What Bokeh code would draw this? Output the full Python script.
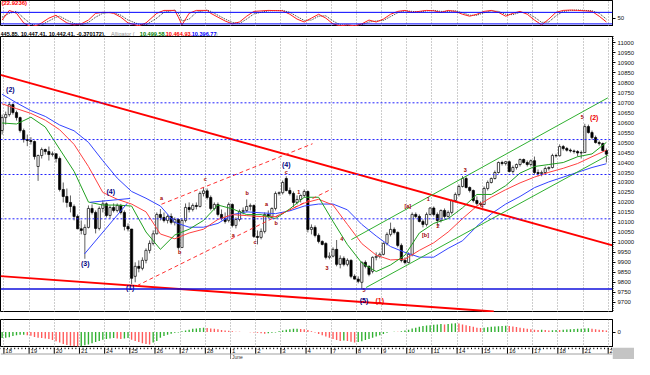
import numpy as np
from bokeh.plotting import figure
from bokeh.layouts import column
from bokeh.models import ColumnDataSource, Range1d, FixedTicker, Grid, Label, Span
from bokeh.embed import file_html
from bokeh.resources import INLINE
from bokeh.core.properties import value

# ---------------- data ----------------
day_labels = ["18", "19", "20", "21", "24", "25", "26", "27", "28", "1", "2", "3",
              "4", "7", "8", "9", "10", "11", "14", "15", "16", "17", "18", "21", "22"]
month_label = "June"
month_day = 9          # position of "1" (June) in day_labels
bars_per_day = 7
first_day_bar = 1      # bar 0 is the last hour of the previous session

opens = [10560,
 10625,10640,10690,10650,10625,10560,10515,
 10510,10505,10380,10435,10465,10455,10440,
 10444,10420,10265,10230,10200,10180,10130,
 10068,10040,10075,10170,10150,10070,10170,
 10193,10135,10175,10160,10185,10150,10080,
 10067,9830,9880,9870,9910,9960,9995,
 10043,10140,10125,10110,10130,10100,10115,
 9974,10110,10175,10165,10185,10180,10245,
 10258,10225,10170,10190,10140,10120,10110,
 10190,10085,10115,10155,10160,10180,10185,
 10030,10025,10055,10140,10130,10170,10245,
 10249,10320,10260,10245,10200,10215,10235,
 10255,10065,10075,10035,10005,9995,9925,
 9931,9965,9890,9920,9890,9910,9830,
 9816,9800,9900,9880,9855,9925,9930,
 9940,9995,10040,10065,10050,9985,9910,
 9899,9940,10140,10130,10105,10090,10140,
 10172,10140,10110,10160,10130,10150,10210,
 10240,10280,10320,10275,10260,10210,10195,
 10190,10270,10300,10320,10350,10400,10395,
 10404,10355,10375,10390,10415,10400,10390,
 10409,10350,10345,10350,10370,10375,10435,
 10434,10480,10470,10462,10458,10455,10448,
 10450,10580,10550,10525,10500,10495,10460]
highs = [10640,
 10655,10704,10695,10660,10630,10570,10540,
 10527,10510,10440,10475,10470,10480,10455,
 10444,10430,10300,10270,10235,10190,10140,
 10110,10090,10185,10190,10160,10180,10211,
 10200,10185,10195,10195,10193,10160,10095,
 10067,9900,9910,9925,9970,10010,10060,
 10150,10167,10150,10140,10145,10125,10120,
 10120,10195,10200,10195,10200,10255,10275,
 10270,10235,10200,10200,10165,10150,10200,
 10195,10125,10165,10175,10215,10195,10190,
 10060,10070,10150,10160,10175,10255,10255,
 10310,10331,10275,10255,10235,10240,10265,
 10260,10090,10085,10045,10010,10000,9950,
 9975,10012,9935,9930,9920,9915,9840,
 9830,9905,9910,9885,9930,9950,9949,
 10000,10050,10099,10075,10055,9995,9925,
 9950,10150,10150,10140,10115,10150,10176,
 10180,10150,10165,10170,10160,10215,10250,
 10290,10332,10330,10280,10265,10230,10205,
 10280,10310,10325,10360,10405,10409,10408,
 10410,10385,10395,10420,10420,10410,10415,
 10430,10365,10360,10380,10380,10444,10444,
 10491,10488,10478,10470,10465,10462,10460,
 10594,10590,10560,10535,10510,10500,10470]
lows = [10540,
 10590,10630,10640,10610,10550,10500,10482,
 10490,10415,10308,10420,10440,10410,10430,
 10400,10255,10200,10175,10150,10110,10066,
 10040,9918,10070,10140,10045,10060,10150,
 10125,10120,10150,10150,10140,10060,10055,
 9790,9800,9850,9860,9895,9945,9985,
 10040,10110,10100,10095,10090,10085,9963,
 9974,10100,10150,10155,10165,10175,10230,
 10215,10160,10160,10130,10110,10094,10100,
 10075,10070,10105,10140,10150,10160,10022,
 9990,10015,10045,10120,10120,10160,10235,
 10240,10255,10235,10177,10190,10200,10225,
 10050,10040,10025,9995,9985,9915,9915,
 9925,9880,9870,9880,9880,9820,9815,
 9795,9766,9870,9830,9845,9910,9920,
 9935,9985,10030,10040,9975,9900,9890,
 9895,9930,10120,10100,10075,10080,10135,
 10130,10082,10100,10120,10125,10140,10200,
 10230,10275,10270,10250,10200,10185,10182,
 10187,10260,10295,10315,10345,10385,10385,
 10350,10345,10365,10380,10395,10380,10380,
 10340,10331,10331,10345,10360,10370,10425,
 10430,10460,10455,10450,10445,10430,10420,
 10448,10545,10515,10495,10485,10455,10400]
closes = [10625,
 10640,10690,10650,10625,10560,10515,10510,
 10505,10430,10435,10465,10455,10440,10444,
 10420,10265,10230,10200,10180,10130,10068,
 10060,10075,10170,10150,10070,10170,10193,
 10135,10175,10160,10185,10150,10080,10067,
 9820,9880,9870,9910,9960,9995,10043,
 10140,10125,10110,10130,10100,10115,9974,
 10110,10175,10165,10185,10180,10245,10258,
 10225,10170,10190,10140,10120,10105,10190,
 10085,10115,10155,10160,10180,10185,10030,
 10025,10055,10140,10130,10170,10245,10249,
 10300,10260,10245,10200,10215,10235,10255,
 10065,10075,10035,10005,9990,9925,9931,
 9965,9890,9920,9890,9910,9830,9816,
 9805,9900,9880,9840,9925,9930,9940,
 9995,10040,10065,10050,9985,9910,9899,
 9940,10140,10130,10105,10090,10140,10172,
 10140,10110,10160,10130,10150,10210,10240,
 10280,10320,10275,10260,10210,10195,10190,
 10270,10300,10320,10350,10400,10395,10404,
 10355,10375,10390,10415,10400,10390,10409,
 10350,10345,10350,10370,10375,10435,10434,
 10480,10470,10462,10458,10455,10448,10450,
 10580,10550,10525,10500,10495,10460,10442]

# Alligator lines read every 4 bars
gator_bar = list(range(0, 169, 4))
jaw = [10742,10699,10660,10631,10588,10559,10501,10409,10322,10255,10221,10182,10100,
       10076,10076,10095,10139,10153,10148,10144,10158,10182,10192,10192,10163,10090,
       10032,9979,9950,9926,9926,9970,10008,10081,10143,10192,10230,10274,10303,10327,
       10351,10375,10394]
teeth = [10694,10670,10646,10612,10564,10491,10380,10250,10216,10192,10153,10042,10018,
         10047,10066,10115,10139,10134,10129,10129,10163,10197,10216,10187,10090,9994,
         9936,9912,9916,9960,9998,10052,10119,10182,10226,10264,10298,10327,10351,10371,
         10395,10429,10462]
lips = [10598,10593,10627,10578,10467,10356,10202,10187,10187,10182,10052,9965,10037,
        10066,10110,10187,10168,10139,10139,10119,10168,10226,10226,10105,9989,9897,
        9854,9887,9936,10047,10095,10119,10173,10240,10240,10284,10347,10380,10390,
        10400,10429,10443,10501]

# horizontal levels
dotted_levels = [10699, 10515, 10340, 10118]
solid_level = 9766

# hand-drawn trend lines (bar, price)
resist_bar, resist_px = [-0.45, 169.7], [10839, 9985]
support_bar, support_px = [-0.45, 136.7], [9831, 9654]
abc_up_bar, abc_up_px = [44.3, 86.3], [10191, 10494]
abc_lo_bar, abc_lo_px = [37.5, 91.7], [9783, 10268]
chan_up_bar, chan_up_px = [97.1, 168.4], [10014, 10724]
chan_lo_bar, chan_lo_px = [101.2, 168.4], [9774, 10436]
tri_a_bar, tri_a_px = [22.9, 34.8], [9942, 10196]
tri_b_bar, tri_b_px = [24.5, 35.6], [10201, 10220]

# wave labels
big_txt = ["(2)", "(3)", "(4)", "(1)", "(4)", "(5)", "(1)", "(2)"]
big_bar = [2.3, 23.1, 30.2, 35.6, 79.0, 100.6, 105.0, 164.6]
big_px = [10767, 9894, 10254, 9774, 10388, 9711, 9711, 10628]
big_col = ["#000080", "#000080", "#000080", "#000080", "#000080", "#000080", "#ee0000", "#ee0000"]
small_txt = ["a", "b", "c", "a", "b", "c", "a", "b", "c", "1", "3", "4", "5",
             "[a]", "[b]", "1", "2", "3", "4", "5"]
small_bar = [44.3, 49.4, 56.5, 64.3, 68.1, 70.3, 73.5, 76.2, 79.0, 82.5, 90.3, 94.4, 100.6,
             112.8, 117.7, 118.5, 121.2, 128.8, 133.4, 161.3]
small_px = [10220, 9951, 10316, 10038, 10249, 10000, 10191, 10095, 10354, 10254, 9870, 10018,
            9759, 10182, 10038, 10215, 10081, 10364, 10182, 10628]

# stochastic (top panel)
stoch_bar = [0,2,4,6,8,10,11,13,15,16,18,20,22,24,26,28,30,31,33,35,38,40,43,45,48,49,50,52,
             54,57,58,60,62,64,66,68,70,74,78,80,82,84,86,88,90,92,94,96,98,100,102,104,106,
             108,110,112,114,116,118,120,122,124,126,128,130,132,134,136,138,140,142,144,146,
             148,150,152,154,156,158,160,162,164,166,168]
stoch_k = [40,90,75,25,5,15,25,50,65,50,25,15,20,40,75,80,78,75,55,25,10,25,75,90,90,55,15,
           75,90,90,75,55,35,20,30,60,85,90,88,70,45,30,50,70,50,20,10,15,10,20,40,30,45,70,
           85,90,80,85,90,88,80,90,85,70,60,70,85,90,80,60,75,85,70,40,15,45,80,90,92,90,88,
           85,60,30]
stoch_d = [55,75,85,50,20,8,15,35,55,60,40,22,15,28,55,75,80,78,65,40,18,15,50,80,92,75,35,
           45,80,92,85,65,45,28,22,45,72,88,90,80,58,38,40,60,62,35,15,12,12,15,30,35,38,58,
           78,88,85,82,88,90,85,85,88,78,65,65,78,88,85,70,68,80,78,55,28,30,62,85,90,92,90,
           88,75,45]
stoch_now = "(22.9236)"

# Awesome oscillator histogram
ao = [-75,-70,-65,-50,-40,-35,-35,-40,-45,-60,-70,-75,-80,-85,-100,-115,-130,-150,-160,-170,
      -178,-180,-175,-165,-155,-140,-125,-110,-95,-85,-80,-75,-80,-85,-80,-75,-95,-110,-125,
      -140,-150,-155,-130,-110,-70,-50,-35,-20,-10,-5,10,20,30,40,45,50,55,50,45,40,35,25,20,
      15,10,5,3,2,0,-3,-5,-10,-15,-20,-15,-10,-5,10,20,30,35,40,42,38,35,25,10,-5,-25,-40,-55,
      -70,-85,-100,-110,-105,-110,-120,-130,-125,-115,-100,-85,-70,-55,-40,-25,-10,0,5,3,10,20,
      30,45,55,65,75,80,85,90,95,100,95,100,105,110,105,95,85,75,65,55,50,55,60,65,70,72,75,78,
      75,70,62,55,48,40,35,30,25,28,25,20,22,25,24,28,32,35,38,40,42,44,46,40,35,30,25,20]

header_main = "445.85, 10,447.41, 10,442.41, -0.370172),"
header_vals = ["10,499.58,", "10,464.93,", "10,396.77"]

# ---------------- layout ----------------
FW = 612
FONT = value("Liberation Sans")
n = len(closes)
xb = np.arange(n)
xr = Range1d(-0.45, 169.7)
day_bounds = [first_day_bar - 0.5 + bars_per_day * k for k in range(len(day_labels))]


def base(fh, yr, **kw):
    p = figure(frame_width=FW, frame_height=fh, x_range=xr, y_range=yr,
               toolbar_location=None, output_backend="svg", min_border=0,
               x_axis_location=None, outline_line_color="black",
               background_fill_color="white", **kw)
    p.grid.grid_line_color = None
    p.add_layout(Grid(dimension=0, ticker=FixedTicker(ticks=day_bounds),
                      grid_line_color="#9a9a9a", grid_line_dash="1 2", grid_line_width=1))
    return p


def style_axis(ax, ticks, minor):
    ax.ticker = FixedTicker(ticks=ticks, minor_ticks=minor)
    ax.major_label_text_font_size = "6px"
    ax.major_label_text_font = "Liberation Sans"
    ax.major_label_text_color = "#111111"
    ax.major_tick_out = 3
    ax.major_tick_in = 0
    ax.minor_tick_out = 1
    ax.minor_tick_in = 0
    ax.major_label_standoff = 2
    ax.axis_line_color = "black"


# top stochastic panel
pt = base(26, Range1d(6.5, 141.5), y_axis_location="right")
style_axis(pt.yaxis[0], [50], [])
for lv in (80, 20):
    pt.add_layout(Span(location=lv, dimension="width", line_color="#0000ff", line_width=1))
pt.line(stoch_bar, stoch_d, line_color="#333333", line_dash="1 1", line_width=1)
pt.line(stoch_bar, stoch_k, line_color="#ff2020", line_width=1)
pt.add_layout(Label(x=-0.2, y=128, text=stoch_now, text_color="#ff0000",
                    text_font_size="6px", text_font_style="bold", text_font="Liberation Sans",
                    text_baseline="middle"))

# header row
ph = figure(width=634, height=10, x_range=Range1d(0, 634), y_range=Range1d(0, 10),
            toolbar_location=None, output_backend="svg", min_border=0,
            x_axis_location=None, y_axis_location=None, outline_line_color=None)
ph.grid.grid_line_color = None
ph.add_layout(Span(location=0.5, dimension="width", line_color="#b0b0b0", line_width=1))
hdr_parts = [(0, header_main, "#000000", "bold"), (115, "Alligator (", "#909090", "normal"),
             (145, header_vals[0], "#008000", "bold"), (172, header_vals[1], "#ff0000", "bold"),
             (199, header_vals[2], "#0000ff", "bold"), (224, ")", "#909090", "normal")]
for hx, ht, hc, hs in hdr_parts:
    ph.add_layout(Label(x=hx, y=5, text=ht, text_color=hc, text_font_size="5.6px",
                        text_font_style=hs, text_font="Liberation Sans", text_baseline="middle"))

# main price panel
pm = base(276, Range1d(9648.8, 11031.2), y_axis_location="right")
style_axis(pm.yaxis[0], list(range(9700, 11001, 50)), list(range(9650, 11031, 10)))
for lv in dotted_levels:
    pm.add_layout(Span(location=lv, dimension="width", line_color="#2020ff",
                       line_dash="2 2", line_width=1))
pm.add_layout(Span(location=solid_level, dimension="width", line_color="#1010dd", line_width=1.5))

up = [c >= o for o, c in zip(opens, closes)]
src = ColumnDataSource(dict(
    x=xb, h=highs, l=lows,
    top=np.maximum(opens, closes), bot=np.minimum(opens, closes),
    fill=["white" if u else "black" for u in up]))
pm.segment(x0="x", y0="l", x1="x", y1="h", line_color="#606060", line_width=1, source=src)
pm.vbar(x="x", width=0.62, top="top", bottom="bot", fill_color="fill",
        line_color="black", line_width=0.7, source=src)

pm.line(gator_bar, jaw, line_color="#3344ff", line_width=1)
pm.line(gator_bar, teeth, line_color="#ff4040", line_width=1)
pm.line(gator_bar, lips, line_color="#20a020", line_width=1)

pm.line(resist_bar, resist_px, line_color="#ff0000", line_width=2)
pm.line(support_bar, support_px, line_color="#ff0000", line_width=2)
pm.line(abc_up_bar, abc_up_px, line_color="#ff3030", line_width=1, line_dash="4 3")
pm.line(abc_lo_bar, abc_lo_px, line_color="#ff3030", line_width=1, line_dash="4 3")
pm.line(chan_up_bar, chan_up_px, line_color="#30b030", line_width=1)
pm.line(chan_lo_bar, chan_lo_px, line_color="#30b030", line_width=1)
pm.line(tri_a_bar, tri_a_px, line_color="#3344ff", line_width=1)
pm.line(tri_b_bar, tri_b_px, line_color="#3344ff", line_width=1)

pm.text(x=big_bar, y=big_px, text=big_txt, text_color=big_col, text_font=FONT,
        text_font_size="7px", text_font_style="bold", text_align="center",
        text_baseline="middle")
pm.text(x=small_bar, y=small_px, text=small_txt, text_color="#a00000", text_font=FONT,
        text_font_size="5.5px", text_font_style="bold", text_align="center",
        text_baseline="middle")

# AO panel
pa = base(28, Range1d(-192, 156), y_axis_location="right", min_border_top=7)
style_axis(pa.yaxis[0], [0], [])
ao_col = ["#30b030" if (i == 0 or ao[i] >= ao[i - 1]) else "#ff5a5a" for i in range(len(ao))]
pa.vbar(x=xb, width=0.38, top=ao, bottom=0, fill_color=ao_col, line_color=None)

# date axis
px_ = figure(frame_width=FW, frame_height=12, x_range=xr, y_range=Range1d(0, 12),
             toolbar_location=None, output_backend="svg", min_border=0, min_border_right=22,
             border_fill_color="#c4c4c4", background_fill_color="white",
             x_axis_location=None, y_axis_location=None, outline_line_color=None)
px_.grid.grid_line_color = None
minor_x = [b + 0.5 for b in range(-1, n + 1)]
px_.segment(x0=minor_x, y0=[12] * len(minor_x), x1=minor_x, y1=[10.3] * len(minor_x),
            line_color="black", line_width=1)
px_.segment(x0=day_bounds, y0=[12] * len(day_bounds), x1=day_bounds,
            y1=[5.5] * len(day_bounds), line_color="black", line_width=1)
px_.segment(x0=[-0.45], y0=[5.5], x1=[169.7], y1=[5.5], line_color="#a0a0a0", line_width=1)
px_.text(x=[b + 0.4 for b in day_bounds], y=[8.2] * len(day_bounds), text=day_labels,
         text_font=FONT, text_font_size="6px", text_color="#111111",
         text_align="left", text_baseline="middle")
px_.segment(x0=[day_bounds[month_day]], y0=[5.5], x1=[day_bounds[month_day]], y1=[0],
            line_color="#808080", line_width=1)
px_.text(x=[day_bounds[month_day] + 0.4], y=[2.4], text=[month_label], text_font=FONT,
         text_font_size="5px", text_color="#333333", text_align="left",
         text_baseline="middle")

layout = column(pt, ph, pm, pa, px_, spacing=0)
open("out.html", "w").write(file_html(layout, INLINE))
